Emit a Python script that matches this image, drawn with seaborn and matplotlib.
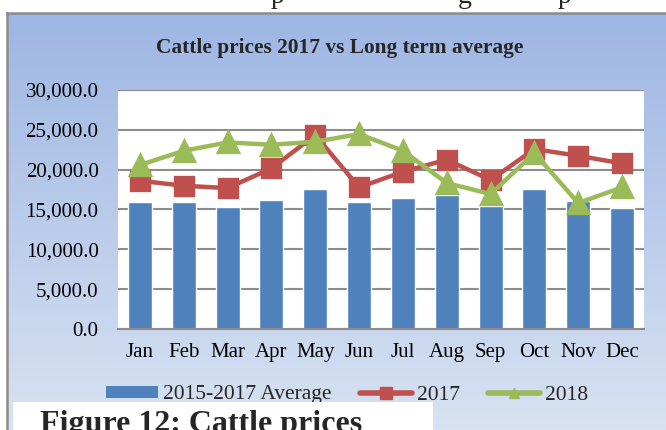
import numpy as np
import pandas as pd
import seaborn as sns
import matplotlib
matplotlib.use('Agg')
import matplotlib.pyplot as plt
from matplotlib.patches import Rectangle
from matplotlib.lines import Line2D
from matplotlib.patches import Patch

months = ['Jan', 'Feb', 'Mar', 'Apr', 'May', 'Jun', 'Jul', 'Aug', 'Sep', 'Oct', 'Nov', 'Dec']
avg_2015_2017 = [15900, 15900, 15270, 16220, 17570, 15900, 16400, 16810, 15390, 17530, 16060, 15140]
prices_2017 = [18610, 17980, 17690, 20160, 24340, 17780, 19740, 21250, 18700, 22580, 21740, 20790]
prices_2018 = [20580, 22370, 23420, 23130, 23500, 24470, 22370, 18320, 16940, 22080, 15810, 17780]
yticks = [0, 5000, 10000, 15000, 20000, 25000, 30000]

df = pd.DataFrame({'month': months, 'avg': avg_2015_2017,
                   'y2017': prices_2017, 'y2018': prices_2018})

sns.set_theme(style='white')
plt.rcParams['font.family'] = ['Liberation Serif', 'DejaVu Serif']

W, H = 666, 430
fig = plt.figure(figsize=(W / 100, H / 100), dpi=100)
fig.patch.set_facecolor('white')

# gradient chart background
bg = fig.add_axes([7 / W, 0, (W - 7) / W, (H - 13) / H])
grad = np.linspace(0, 1, 256).reshape(-1, 1)
top = np.array([157, 182, 227]) / 255
bot = np.array([216, 226, 242]) / 255
img = top + (bot - top) * grad[:, :, None]
bg.imshow(img, aspect='auto', extent=[0, 1, 0, 1], origin='upper')
bg.set_xlim(0, 1)
bg.set_ylim(0, 1)
bg.set_xticks([])
bg.set_yticks([])
for side in ['right', 'bottom']:
    bg.spines[side].set_visible(False)
for side in ['top', 'left']:
    bg.spines[side].set_color('#8c8c8c')
    bg.spines[side].set_linewidth(1.8)

# partially visible document text above the chart
for xp, ch in [(278, 'p'), (465, 'g'), (565, 'p')]:
    fig.text(xp / W, 1 - 3 / H, ch, fontsize=20, ha='center', va='baseline')

ax = fig.add_axes([118 / W, (H - 329) / H, (644 - 118) / W, (329 - 90) / H])
ax.set_facecolor('white')

sns.barplot(data=df, x='month', y='avg', color='#4f81bd', saturation=1,
            width=0.55, ax=ax, zorder=2, label='2015-2017 Average')
sns.pointplot(data=df, x='month', y='y2017', color='#c0504d', markers='s',
              markersize=13, linewidth=3.2, ax=ax, zorder=3, label='2017')
sns.pointplot(data=df, x='month', y='y2018', color='#9bbb59', markers='^',
              markersize=15, linewidth=3.2, ax=ax, zorder=4, label='2018')

ax.set_ylim(0, 30000)
ax.set_xlim(-0.5, 11.5)
ax.set_yticks(yticks)
ax.set_yticklabels([f'{v:,.1f}' for v in yticks])
ax.yaxis.grid(True, color='#8c8c8c', linewidth=1.5)
ax.set_axisbelow(True)
ax.set_xlabel('')
ax.set_ylabel('')
ax.tick_params(axis='y', length=0, pad=14, labelsize=15, colors='black')
ax.tick_params(axis='x', length=0, pad=10, labelsize=15, colors='black')
for side in ['top', 'right', 'left']:
    ax.spines[side].set_visible(False)
ax.spines['bottom'].set_color('#8c8c8c')
ax.spines['bottom'].set_linewidth(1.5)
if ax.get_legend():
    ax.get_legend().remove()

fig.text(340 / W, 1 - 48 / H, 'Cattle prices 2017 vs Long term average',
         fontsize=15.4, fontweight='bold', ha='center', va='center')

handles = [Patch(facecolor='#4f81bd', edgecolor='none'),
           Line2D([], [], color='#c0504d', marker='s', markersize=8, linewidth=4),
           Line2D([], [], color='#9bbb59', marker='^', markersize=7, linewidth=4)]
leg = fig.legend(handles, ['2015-2017 Average', '2017', '2018'], loc='center',
                 bbox_to_anchor=(347 / W, 1 - 395 / H), ncol=3, frameon=False,
                 fontsize=15.5, handlelength=2.42, handleheight=0.45,
                 handletextpad=0.23, columnspacing=1.3, borderpad=0)
leg.set_zorder(4)

# caption box from the document overlapping the chart
fig.patches.append(Rectangle((13 / W, 0), (433 - 13) / W, 28 / H,
                             transform=fig.transFigure, facecolor='white',
                             edgecolor='none', zorder=6))
fig.text(40 / W, -2 / H, 'Figure 12: Cattle prices', fontsize=23,
         fontweight='bold', ha='left', va='baseline', zorder=7)

fig.savefig('out.png', dpi=100)
